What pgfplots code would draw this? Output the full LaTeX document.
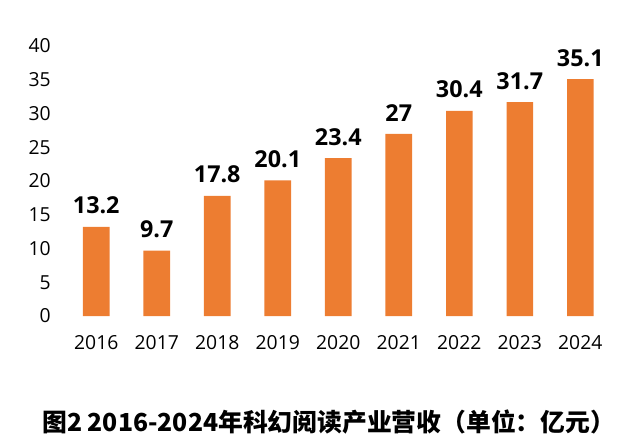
\documentclass[border=0pt]{standalone}
\usepackage{fontspec}
\usepackage{pgfplots}
\pgfplotsset{compat=1.18}
\setmainfont{Open Sans}
\newfontfamily\cjk{Noto Sans CJK SC}
\definecolor{barorange}{RGB}{237,125,49}
\begin{document}
\begin{tikzpicture}
\path[use as bounding box] (0,0) rectangle (482.25pt,333pt);
\begin{axis}[
  at={(49.5pt,96pt)}, anchor=south west,
  scale only axis,
  width=408.4pt, height=202.5pt,
  xmin=-0.5, xmax=8.5, ymin=0, ymax=40,
  ytick={0,5,...,40},
  xtick=data,
  xticklabels={2016,2017,2018,2019,2020,2021,2022,2023,2024},
  axis line style={draw=none},
  tick style={draw=none},
  /pgf/number format/assume math mode=true,
  ticklabel style={font=\fontsize{14.5pt}{17pt}\selectfont, text=black},
  yticklabel style={xshift=-8pt},
  xticklabel style={yshift=-7pt},
  ybar, bar width=19.9pt,
  nodes near coords,
  nodes near coords style={font=\bfseries\fontsize{17.5pt}{21pt}\selectfont, text=black, yshift=6pt},
  point meta=explicit symbolic,
  clip=false,
]
\addplot[fill=barorange, draw=none] coordinates {
  (0,13.2) [13.2] (1,9.7) [9.7] (2,17.8) [17.8] (3,20.1) [20.1] (4,23.4) [23.4]
  (5,27) [27] (6,30.4) [30.4] (7,31.7) [31.7] (8,35.1) [35.1]};
\end{axis}
\node[font=\cjk\bfseries\fontsize{18.6pt}{22pt}\selectfont, anchor=center] at (246.5pt,16.5pt) {图2 2016-2024年科幻阅读产业营收（单位：亿元）};
\end{tikzpicture}
\end{document}
